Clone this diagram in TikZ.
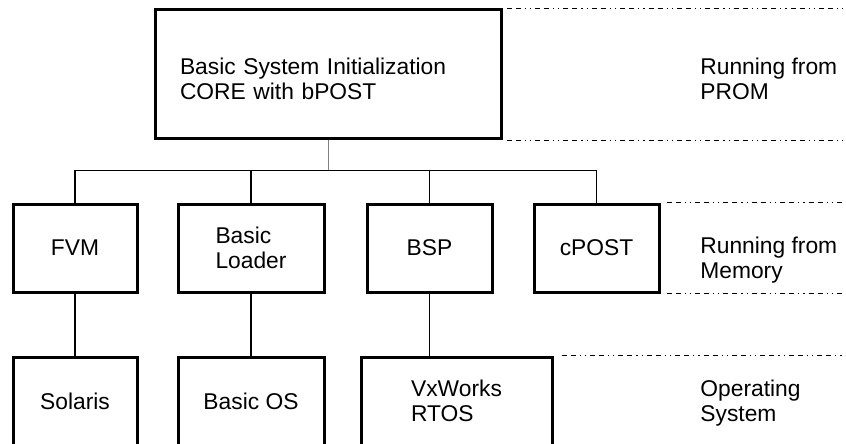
\documentclass[tikz,border=0pt]{standalone}
\usepackage{fontspec}
\setmainfont{Liberation Sans}

\begin{document}
\begin{tikzpicture}[
  x=0.5pt, y=-0.5pt,
  every node/.style={font=\fontsize{11.4}{12.5}\selectfont},
  box/.style={rectangle, draw, line width=1.5pt, inner sep=0pt, minimum height=44pt, align=left},
  link/.style={line width=0.75pt},
  level/.style={line width=0.7pt, dash pattern=on 2.5pt off 2pt on 2.5pt off 2pt on 0.6pt off 2pt on 0.6pt off 2pt},
  note/.style={anchor=west, align=left, inner xsep=0pt}
]
\useasboundingbox (0,0) rectangle (846,444);
\clip (0,0) rectangle (846,444);

\node[box, minimum width=173pt, minimum height=64.5pt, text width=148pt, inner xsep=12.5pt, text height=13pt] (core) at (328,74.5)
{Basic System Initialization\\CORE with bPOST};

\node[box, minimum width=62pt] (fvm) at (75,248) {FVM};
\node[box, minimum width=73pt] (loader) at (251,248) {Basic\\Loader};
\node[box, minimum width=62.5pt] (bsp) at (429.5,248) {BSP};
\node[box, minimum width=62.5pt] (cpost) at (596.5,248) {cPOST};

\node[box, minimum width=62pt] (solaris) at (75,401) {Solaris};
\node[box, minimum width=73pt] (basicos) at (251,401) {Basic OS};
\node[box, minimum width=95.5pt] (vxworks) at (456.5,401) {VxWorks\\RTOS};

\node[note] (prom) at (700,78.5) {Running from\\PROM};
\node[note] (memory) at (700,260) {Running from\\Memory};
\node[note] (system) at (700,403) {Operating\\System};

\coordinate (edge) at (846,0);
\draw[level] ([xshift=2pt]core.north east) -- (core.north east -| edge);
\draw[level] ([xshift=2pt]core.south east) -- (core.south east -| edge);
\draw[level] ([xshift=3pt]cpost.north east) -- (cpost.north east -| edge);
\draw[level] ([xshift=3pt]cpost.south east) -- (cpost.south east -| edge);
\draw[level] ([xshift=4pt]vxworks.north east) -- (vxworks.north east -| edge);
\draw[level, gray!60] ([xshift=3pt]vxworks.south east) -- ++(35pt,0) coordinate (stub);

\draw[line width=0.5pt, gray] (core.south) -- ++(0,30) coordinate (bus);
\draw[link] (fvm.north) |- (bus) -| (cpost.north);
\draw[link] (loader.north) -- (loader.north |- bus);
\draw[link] (bsp.north) -- (bsp.north |- bus);

\draw[link] (fvm) -- (solaris);
\draw[link] (loader) -- (basicos);
\draw[link] (bsp.south) -- (bsp.south |- vxworks.north);

\end{tikzpicture}
\end{document}
